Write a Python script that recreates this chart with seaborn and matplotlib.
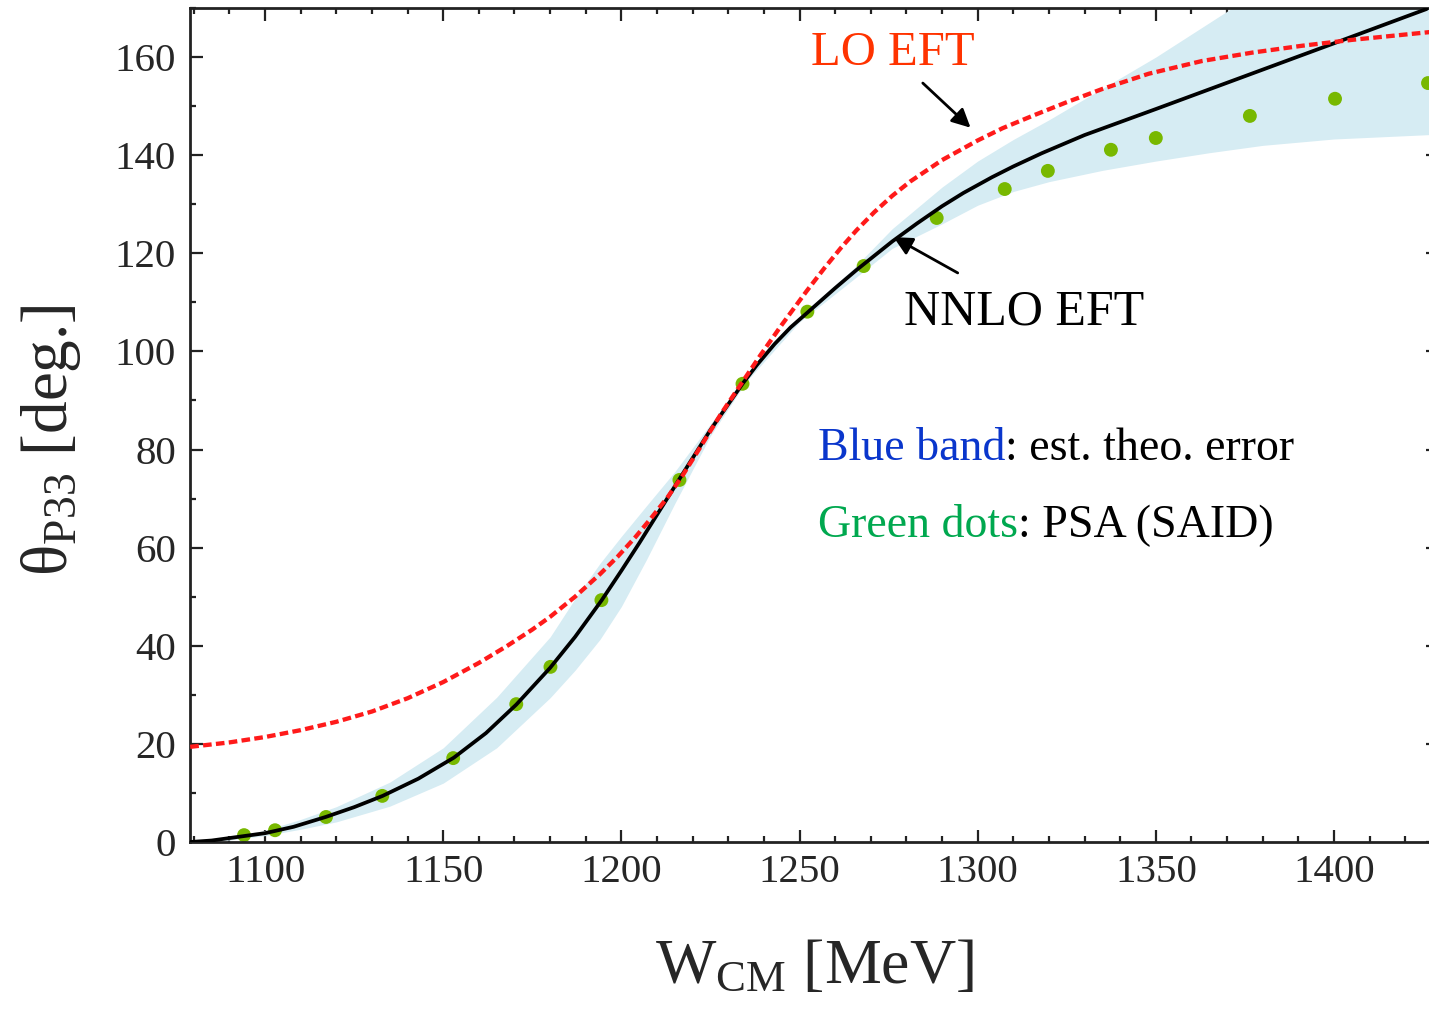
import numpy as np
import pandas as pd
import matplotlib
matplotlib.use("Agg")
import matplotlib.pyplot as plt
from matplotlib.ticker import MultipleLocator
import seaborn as sns

# --- data -----------------------------------------------------------------
# NNLO EFT phase shift (solid black)
nnlo_w = [1079, 1085, 1094, 1100, 1108, 1117, 1125, 1133, 1143, 1153, 1162,
          1170.5, 1180, 1187, 1194.4, 1200, 1205, 1210, 1216.3, 1225, 1234,
          1238, 1243, 1247.5, 1252.2, 1260, 1266, 1276, 1283, 1290, 1296,
          1304, 1310, 1318, 1330, 1350, 1375, 1400, 1426]
nnlo_theta = [0.0, 0.3, 1.2, 1.8, 3.1, 5.1, 7.1, 9.4, 12.9, 17.2, 22.2,
              28.0, 35.5, 41.8, 49.2, 55.3, 60.9, 66.7, 74.0, 84.0, 93.4,
              97.2, 101.5, 104.9, 107.9, 112.9, 116.6, 122.4, 126.1, 129.6,
              132.3, 135.5, 137.7, 140.4, 144.1, 149.4, 156.1, 162.8, 169.8]

# LO EFT phase shift (red dashed)
lo_w = [1079, 1090, 1100, 1110, 1120, 1130, 1140, 1150, 1160, 1168, 1175,
        1180, 1187, 1194, 1199, 1204, 1208, 1213, 1217, 1222, 1228, 1234,
        1239, 1245, 1252, 1257, 1261.5, 1266, 1271, 1276, 1281, 1290, 1300,
        1307, 1316, 1325, 1335, 1348, 1363, 1377, 1391, 1405, 1427]
lo_theta = [19.4, 20.3, 21.4, 22.8, 24.5, 26.6, 29.3, 32.6, 36.5, 40.0, 43.3,
            45.9, 50.0, 54.6, 58.2, 62.2, 65.7, 70.3, 74.5, 80.3, 87.3, 93.8,
            99.2, 105.4, 112.3, 117.0, 121.0, 124.7, 128.4, 131.7, 134.6,
            139.0, 143.0, 145.5, 148.2, 150.8, 153.5, 156.6, 159.2, 160.9,
            162.3, 163.5, 165.1]

# estimated theoretical error band
band_w = [1079, 1090, 1100, 1110, 1120, 1135, 1150, 1165, 1180, 1187, 1194,
          1200, 1207, 1215, 1225, 1235, 1250, 1265, 1276, 1290, 1300, 1310,
          1320, 1335, 1350, 1365, 1380, 1400, 1430]
band_lo = [0.0, 0.4, 1.3, 2.6, 4.1, 7.3, 12.0, 19.2, 29.4, 35.0, 41.3,
           48.0, 57.5, 69.0, 82.8, 93.8, 106.0, 114.6, 121.0, 126.0, 129.8,
           132.6, 134.6, 136.9, 138.8, 140.5, 142.0, 143.3, 144.3]
band_hi = [0.0, 0.9, 2.4, 4.6, 7.2, 12.2, 19.2, 29.5, 41.8, 49.6, 56.8,
           62.3, 68.5, 75.5, 85.2, 95.0, 107.2, 116.8, 125.0, 133.5, 138.8,
           143.2, 147.2, 153.6, 160.0, 167.0, 174.0, 183.0, 196.0]

# PSA (SAID) points
psa_w = [1094.1, 1102.8, 1117.1, 1132.9, 1152.8, 1170.5, 1180.1, 1194.4,
         1216.3, 1234.0, 1252.2, 1268.0, 1288.5, 1307.6, 1319.7, 1337.4,
         1350.0, 1376.4, 1400.3, 1426.4]
psa_theta = [1.4, 2.4, 5.1, 9.4, 17.1, 28.1, 35.7, 49.3, 73.8, 93.4, 108.1,
             117.4, 127.2, 133.1, 136.8, 141.1, 143.5, 148.0, 151.5, 154.7]

# --- style ----------------------------------------------------------------
sns.set_theme(style="ticks")
plt.rcParams["font.family"] = ["Liberation Serif", "DejaVu Serif"]
plt.rcParams["mathtext.fontset"] = "custom"
plt.rcParams["mathtext.rm"] = "Liberation Serif"
plt.rcParams["mathtext.it"] = "Liberation Serif:italic"

W, H = 1429, 1010
fig = plt.figure(figsize=(W / 100, H / 100), dpi=100)
ax = fig.add_axes([190 / W, 1 - 842 / H, (1438 - 190) / W, (842 - 8) / H])

band_color = "#d6ecf3"
ax.fill_between(band_w, band_lo, band_hi, color=band_color, lw=0, zorder=1)

sns.scatterplot(x=psa_w, y=psa_theta, ax=ax, s=100, color="#78b800",
                edgecolor="none", linewidth=0, zorder=2)
n0 = len(ax.lines)
sns.lineplot(x=nnlo_w, y=nnlo_theta, ax=ax, color="black", sort=False,
             zorder=3)
nnlo_line = ax.lines[n0]
sns.lineplot(x=lo_w, y=lo_theta, ax=ax, color="#ff1a1a", sort=False,
             zorder=4)
lo_line = ax.lines[n0 + 1]

nnlo_line.set_linewidth(2.7)
nnlo_line.set_solid_joinstyle("round")
lo_line.set_linewidth(3.1)
lo_line.set_linestyle((0, (2.0, 1.0)))
lo_line.set_dash_capstyle("butt")

ax.set_xlim(1078.93, 1429.2)
ax.set_ylim(0, 170)

# axes frame and ticks
for side in ["left", "right", "top", "bottom"]:
    ax.spines[side].set_visible(True)
    ax.spines[side].set_linewidth(2.0)
    ax.spines[side].set_color("#222222")
ax.xaxis.set_major_locator(MultipleLocator(50))
ax.xaxis.set_minor_locator(MultipleLocator(10))
ax.yaxis.set_major_locator(MultipleLocator(20))
ax.yaxis.set_minor_locator(MultipleLocator(10))
ax.tick_params(which="both", direction="in", top=True, right=True,
               color="#222222", width=1.6)
ax.tick_params(which="major", length=9)
ax.tick_params(which="minor", length=4.5)
ax.tick_params(axis="x", which="major", labelsize=29.5, pad=9)
ax.tick_params(axis="y", which="major", labelsize=29.5, pad=10)

ax.set_xlabel(r"$\mathrm{W_{CM}}$ [MeV]", fontsize=46, labelpad=34)
ax.set_ylabel(r"$\mathrm{θ_{P33}}$ [deg.]", fontsize=47)
ax.yaxis.set_label_coords(-0.086, 0.482)

# curve labels with arrows
ax.text(1253.1, 158.4, "LO EFT", color="#ff3300", fontsize=35,
        ha="left", va="baseline", zorder=5)
ax.annotate("", xy=(1298.0, 145.6), xytext=(1284.6, 154.7),
            arrowprops=dict(arrowstyle="-|>", color="black", lw=2,
                            mutation_scale=28, shrinkA=0, shrinkB=0),
            zorder=5)
ax.text(1279.2, 105.4, "NNLO EFT", color="black", fontsize=36,
        ha="left", va="baseline", zorder=5)
ax.annotate("", xy=(1276.4, 123.3), xytext=(1294.4, 116.0),
            arrowprops=dict(arrowstyle="-|>", color="black", lw=2,
                            mutation_scale=28, shrinkA=0, shrinkB=0),
            zorder=5)

# key texts, coloured lead word followed by black description
def two_part(x, y, lead, lead_color, rest, size=33):
    t1 = ax.text(x, y, lead, color=lead_color, fontsize=size,
                 ha="left", va="baseline", zorder=5)
    ax.annotate(rest, xy=(1, 0), xycoords=t1, color="black", fontsize=size,
                ha="left", va="bottom", zorder=5)

two_part(1255.1, 77.9, "Blue band", "#0a36cc", ": est. theo. error")
two_part(1255.1, 62.2, "Green dots", "#00a84f", ": PSA (SAID)")

fig.savefig("out.png", dpi=100)
